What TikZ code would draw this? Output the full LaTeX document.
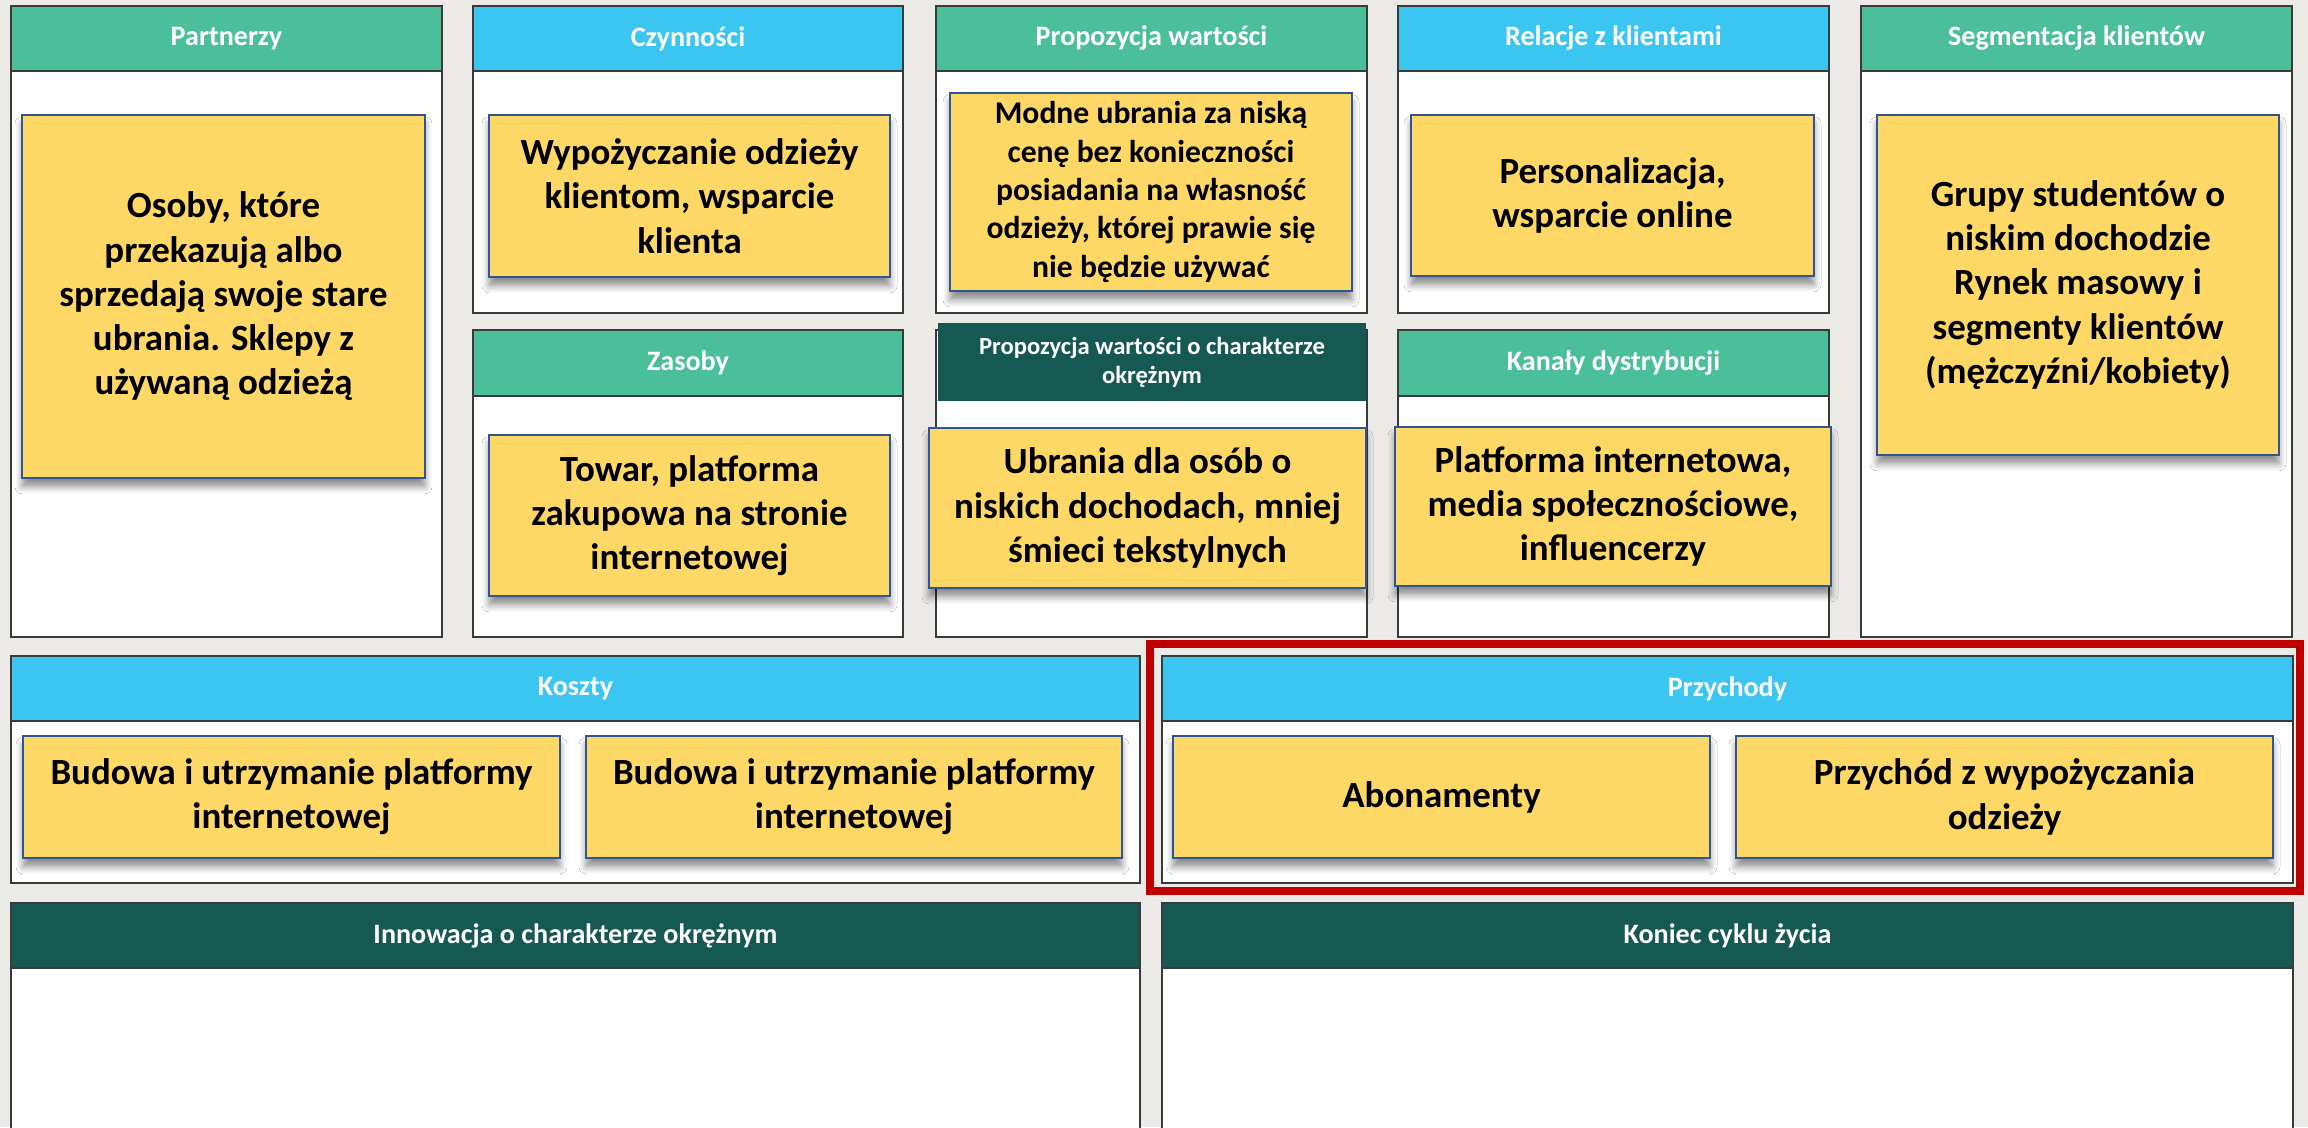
\documentclass[tikz,border=0pt]{standalone}
\usepackage{fontspec}
\setmainfont{Carlito}
\usetikzlibrary{shadows.blur}
\definecolor{paper}{HTML}{ECEAE6}
\definecolor{framegray}{HTML}{3A3A3A}
\definecolor{headgreen}{HTML}{4BBF99}
\definecolor{headblue}{HTML}{3BC6F2}
\definecolor{headdark}{HTML}{165852}
\definecolor{noteyellow}{HTML}{FDD867}
\definecolor{noteblue}{HTML}{2F5597}
\definecolor{markred}{HTML}{C00000}

\begin{document}
\begin{tikzpicture}[x=0.02cm, y=-0.02cm,
    panel/.style = {draw=framegray, line width=1.4pt, fill=white},
    head/.style = {draw=framegray, line width=1.4pt, inner sep=0pt, minimum height=1.3cm, text=white, font=\fontsize{16}{19.2}\selectfont\bfseries},
    greenhead/.style = {head, fill=headgreen},
    bluehead/.style = {head, fill=headblue},
    darkhead/.style = {head, fill=headdark},
    note/.style = {draw=noteblue, line width=1.2pt, fill=noteyellow, inner sep=0pt, align=center,
        font=\fontsize{21}{25.2}\selectfont\bfseries,
        blur shadow={shadow xshift=0pt, shadow yshift=-5pt, shadow blur steps=6, shadow blur radius=4pt, shadow opacity=45}}]
    \clip (0,0) rectangle (2308,1127);
    \fill[paper] (0,0) rectangle (2308,1127);

    % Panels
    \draw[panel] (11,6) rectangle (442,637);
    \draw[panel] (473,6) rectangle (903,313);
    \draw[panel] (473,330) rectangle (903,637);
    \draw[panel] (936,6) rectangle (1367,313);
    \draw[panel] (936,330) rectangle (1367,637);
    \draw[panel] (1398,6) rectangle (1829,313);
    \draw[panel] (1398,330) rectangle (1829,637);
    \draw[panel] (1861,6) rectangle (2292,637);
    \draw[panel] (11,656) rectangle (1140,883);
    \draw[panel] (1162,656) rectangle (2293,883);
    \draw[panel] (11,903) rectangle (1140,1160);
    \draw[panel] (1162,903) rectangle (2293,1160);

    % Headers
    \node[greenhead, minimum width=8.62cm] (partners) at (226.5,38.5) {Partnerzy};
    \node[bluehead, minimum width=8.6cm] (activities) at (688,38.5) {Czynności};
    \node[greenhead, minimum width=8.6cm, minimum height=1.32cm] (resources) at (688,363) {Zasoby};
    \node[greenhead, minimum width=8.62cm] (value) at (1151.5,38.5) {Propozycja wartości};
    \node[darkhead, draw=none, align=center, minimum width=8.56cm, minimum height=1.56cm,
        font=\fontsize{14}{16.5}\selectfont\bfseries] (circvalue) at (1152,362) {Propozycja wartości o charakterze\\okrężnym};
    \node[bluehead, minimum width=8.62cm] (relations) at (1613.5,38.5) {Relacje z klientami};
    \node[greenhead, minimum width=8.62cm, minimum height=1.32cm] (channels) at (1613.5,363) {Kanały dystrybucji};
    \node[greenhead, minimum width=8.62cm] (segments) at (2076.5,38.5) {Segmentacja klientów};
    \node[bluehead, minimum width=22.58cm] (costs) at (575.5,688.5) {Koszty};
    \node[bluehead, minimum width=22.62cm] (revenue) at (1727.5,688.5) {Przychody};
    \node[darkhead, minimum width=22.58cm] (innovation) at (575.5,935.5) {Innowacja o charakterze okrężnym};
    \node[darkhead, minimum width=22.62cm] (endoflife) at (1727.5,935.5) {Koniec cyklu życia};

    % Notes
    \node[note, minimum width=8.06cm, minimum height=7.26cm] (partnersnote) at (223.5,296.5) {Osoby, które\\przekazują albo\\sprzedają swoje stare\\ubrania. Sklepy z\\używaną odzieżą};
    \node[note, minimum width=8.02cm, minimum height=3.24cm] (activitiesnote) at (689.5,196) {Wypożyczanie odzieży\\klientom, wsparcie\\klienta};
    \node[note, minimum width=8.02cm, minimum height=3.22cm] (resourcesnote) at (689.5,515.5) {Towar, platforma\\zakupowa na stronie\\internetowej};
    \node[note, minimum width=8.04cm, minimum height=3.96cm, font=\fontsize{18}{21.8}\selectfont\bfseries] (valuenote) at (1151,192) {Modne ubrania za niską\\cenę bez konieczności\\posiadania na własność\\odzieży, której prawie się\\nie będzie używać};
    \node[note, minimum width=8.74cm, minimum height=3.2cm] (circvaluenote) at (1147.5,508) {Ubrania dla osób o\\niskich dochodach, mniej\\śmieci tekstylnych};
    \node[note, minimum width=8.06cm, minimum height=3.22cm] (relationsnote) at (1612.5,195.5) {Personalizacja,\\wsparcie online};
    \node[note, minimum width=8.72cm, minimum height=3.18cm] (channelsnote) at (1613,506.5) {Platforma internetowa,\\media społecznościowe,\\influencerzy};
    \node[note, minimum width=8.04cm, minimum height=6.8cm] (segmentsnote) at (2078,285) {Grupy studentów o\\niskim dochodzie\\Rynek masowy i\\segmenty klientów\\(mężczyźni/kobiety)};
    \node[note, minimum width=10.74cm, minimum height=2.44cm] (costsnote1) at (291.5,797) {Budowa i utrzymanie platformy\\internetowej};
    \node[note, minimum width=10.72cm, minimum height=2.44cm] (costsnote2) at (854,797) {Budowa i utrzymanie platformy\\internetowej};
    \node[note, minimum width=10.74cm, minimum height=2.44cm] (revenuenote1) at (1441.5,797) {Abonamenty};
    \node[note, minimum width=10.74cm, minimum height=2.44cm] (revenuenote2) at (2004.5,797) {Przychód z wypożyczania\\odzieży};

    % Highlight
    \draw[markred, line width=4.5pt] (1150,644) rectangle (2300,891);
\end{tikzpicture}
\end{document}
